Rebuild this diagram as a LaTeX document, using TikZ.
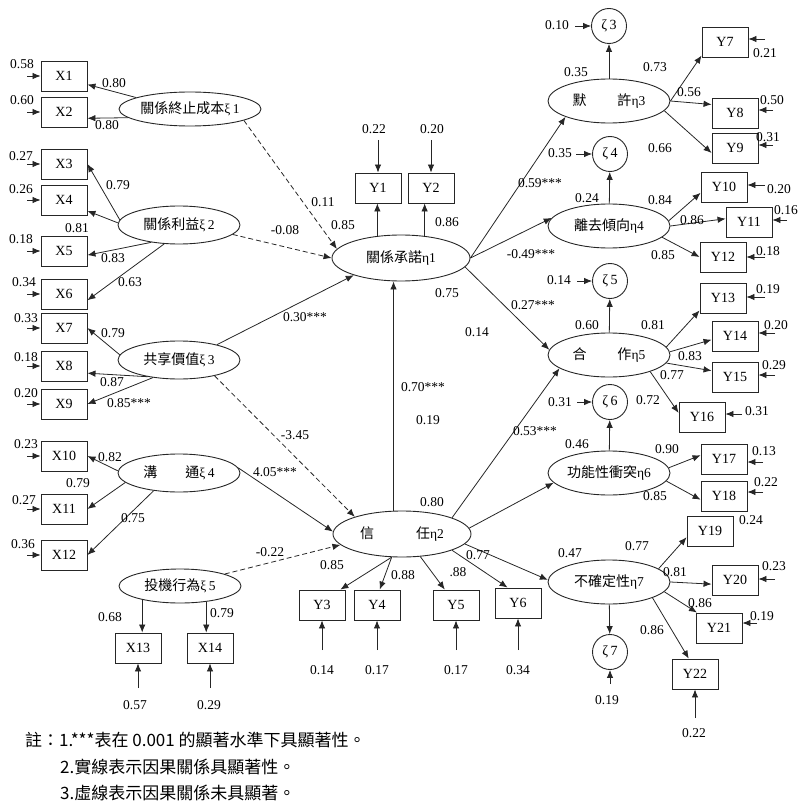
\documentclass[tikz,border=0pt]{standalone}
\usepackage{fontspec}
\setmainfont{Liberation Serif}
\newfontfamily\cjk{Noto Sans CJK TC}
\usetikzlibrary{arrows.meta,shapes.geometric}
\tikzset{
  obs/.style={draw=black!85,line width=0.9pt,minimum width=46pt,minimum height=30pt,inner sep=0pt,font=\fontsize{14}{16}\selectfont},
  lat/.style={ellipse,draw=black!85,line width=0.9pt,minimum width=122pt,minimum height=38pt,inner sep=0pt,font=\fontsize{13.5}{15}\selectfont},
  latc/.style={lat,minimum width=138pt,minimum height=46pt},
  dist/.style={circle,draw=black!85,line width=0.9pt,minimum size=35pt,inner sep=0pt,font=\fontsize{14}{16}\selectfont},
  arr/.style={-{Latex[length=8pt,width=6.5pt]},line width=0.8pt,draw=black!85},
  darr/.style={arr,dash pattern=on 5pt off 3pt},
  lbl/.style={font=\fontsize{13.5}{15}\selectfont,inner sep=0pt},
  note/.style={font=\cjk\fontsize{17}{19}\selectfont,anchor=west,inner sep=0pt},
}
\newcommand{\zh}[1]{{\cjk\fontsize{14}{16}\selectfont #1}}
\begin{document}
\begin{tikzpicture}[x=1pt,y=-1pt]
  \useasboundingbox (0,0) rectangle (799,805);

  % exogenous constructs
  \node[lat,minimum width=142pt,minimum height=34pt] (xi1) at (190,109) {\zh{關係終止成本}ξ\,1};
  \node[lat] (xi2) at (179,225) {\zh{關係利益}ξ\,2};
  \node[lat] (xi3) at (179,360) {\zh{共享價值}ξ\,3};
  \node[lat] (xi4) at (179,473) {\zh{溝\hspace{2em}通}ξ\,4};
  \node[lat,minimum height=34pt] (xi5) at (180,586) {\zh{投機行為}ξ\,5};

  % endogenous constructs
  \node[latc] (eta1) at (401,258) {\zh{關係承諾}η1};
  \node[latc] (eta2) at (402,534) {\zh{信\hspace{3em}任}η2};
  \node[lat,minimum height=44pt] (eta3) at (609,101) {\zh{默\hspace{2.2em}許}η3};
  \node[lat,minimum height=44pt] (eta4) at (609,226) {\zh{離去傾向}η4};
  \node[lat,minimum height=44pt] (eta5) at (609,355) {\zh{合\hspace{2.2em}作}η5};
  \node[lat,minimum height=44pt] (eta6) at (609,473) {\zh{功能性衝突}η6};
  \node[lat,minimum height=44pt] (eta7) at (609,582) {\zh{不確定性}η7};

  % disturbances
  \node[dist] (z3) at (609,26) {ζ\,3};
  \node[dist] (z4) at (610,154) {ζ\,4};
  \node[dist] (z5) at (610,281) {ζ\,5};
  \node[dist] (z6) at (610,402) {ζ\,6};
  \node[dist] (z7) at (610,652) {ζ\,7};

  % X indicators
  \node[obs] (X1) at (64,76) {X1};
  \node[obs] (X2) at (64,112) {X2};
  \node[obs] (X3) at (64,164) {X3};
  \node[obs] (X4) at (64,200) {X4};
  \node[obs] (X5) at (64,251) {X5};
  \node[obs] (X6) at (64,294) {X6};
  \node[obs] (X7) at (64,328) {X7};
  \node[obs] (X8) at (64,366) {X8};
  \node[obs] (X9) at (64,404) {X9};
  \node[obs] (X10) at (64,456) {X10};
  \node[obs] (X11) at (64,509) {X11};
  \node[obs] (X12) at (64,555) {X12};
  \node[obs] (X13) at (138,648) {X13};
  \node[obs] (X14) at (210,648) {X14};

  % Y indicators
  \node[obs] (Y1) at (378,188) {Y1};
  \node[obs] (Y2) at (431,188) {Y2};
  \node[obs] (Y3) at (322,605) {Y3};
  \node[obs] (Y4) at (377,605) {Y4};
  \node[obs] (Y5) at (456,605) {Y5};
  \node[obs] (Y6) at (518,603) {Y6};
  \node[obs] (Y7) at (725,42) {Y7};
  \node[obs] (Y8) at (735,113) {Y8};
  \node[obs] (Y9) at (735,148) {Y9};
  \node[obs] (Y10) at (724,187) {Y10};
  \node[obs] (Y11) at (749,222) {Y11};
  \node[obs] (Y12) at (723,257) {Y12};
  \node[obs] (Y13) at (723,298) {Y13};
  \node[obs] (Y14) at (735,336) {Y14};
  \node[obs] (Y15) at (735,377) {Y15};
  \node[obs] (Y16) at (702,417) {Y16};
  \node[obs] (Y17) at (724,459) {Y17};
  \node[obs] (Y18) at (724,496) {Y18};
  \node[obs] (Y19) at (710,531) {Y19};
  \node[obs] (Y20) at (735,580) {Y20};
  \node[obs] (Y21) at (719,628) {Y21};
  \node[obs] (Y22) at (695,674) {Y22};

  % measurement paths
  \draw[arr] (xi1.168) -- (X1.-20);
  \draw[arr] (xi1.188) -- (X2.-15);
  \draw[arr] (xi2.175) -- (X3.east);
  \draw[arr] (xi2.178) -- (X4.-25);
  \draw[arr] (xi2.212) -- (X5.-10);
  \draw[arr] (xi2.232) -- (X6.-15);
  \draw[arr] (xi3.175) -- (X7.east);
  \draw[arr] (xi3.208) -- (X8.-17);
  \draw[arr] (xi3.214) -- (X9.east);
  \draw[arr] (xi4.178) -- (X10.east);
  \draw[arr] (xi4.190) -- (X11.east);
  \draw[arr] (xi4.215) -- (X12.east);
  \draw[arr] (xi5.200) -- (xi5.200 |- X13.north);
  \draw[arr] (xi5.-31) -- (xi5.-31 |- X14.north);
  \draw[arr] (eta1.137) -- (eta1.137 |- Y1.south);
  \draw[arr] (eta1.43) -- (eta1.43 |- Y2.south);
  \draw[arr] (eta2.246) -- (Y3.40);
  \draw[arr] (eta2.246) -- (Y4.80);
  \draw[arr] (eta2.-51) -- (Y5.126);
  \draw[arr] (eta2.-18) -- (Y6.124);
  \draw[arr] (eta3.east) -- (Y7.210);
  \draw[arr] (eta3.east) -- (Y8.160);
  \draw[arr] (eta3.-10) -- (Y9.192);
  \draw[arr] (eta4.5) -- (Y10.194);
  \draw[arr] (eta4.0) -- (Y11.172);
  \draw[arr] (eta4.-12) -- (Y12.west);
  \draw[arr] (eta5.8) -- (Y13.208);
  \draw[arr] (eta5.3) -- (Y14.189);
  \draw[arr] (eta5.-8) -- (Y15.165);
  \draw[arr] (eta5.-22) -- (Y16.170);
  \draw[arr] (eta6.5) -- (Y17.171);
  \draw[arr] (eta6.-8) -- (Y18.189);
  \draw[arr] (eta7.15) -- (Y19.195);
  \draw[arr] (eta7.east) -- (Y20.190);
  \draw[arr] (eta7.-10) -- (Y21.145);
  \draw[arr] (eta7.-20) -- (Y22.112);

  % structural paths
  \draw[darr] (xi1.-12) -- (eta1.172);
  \draw[darr] (xi2.-10) -- (eta1.180);
  \draw[arr] (xi3.22) -- (eta1.200);
  \draw[darr] (xi3.-24) -- (eta2.160);
  \draw[arr] (xi4.5) -- (eta2.178);
  \draw[darr] (xi5.15) -- (eta2.190);
  \draw[arr] (eta2.110) -- (eta2.110 |- eta1.south);
  \draw[arr] (eta1.east) -- (eta3.200);
  \draw[arr] (eta1.east) -- (eta4.172);
  \draw[arr] (eta1.-8) -- (eta5.175);
  \draw[arr] (eta2.18) -- (eta5.195);
  \draw[arr] (eta2.5) -- (eta6.190);
  \draw[arr] (eta2.-9) -- (eta7.178);
  \draw[arr] (eta3) -- (z3);
  \draw[arr] (eta4) -- (z4);
  \draw[arr] (eta5) -- (z5);
  \draw[arr] (eta6) -- (z6);
  \draw[arr] (eta7) -- (z7);

  % error terms X
  \coordinate (eX1) at (27,76);   \draw[arr] (eX1) -- (X1);   \node[lbl] (lX1) at (22,64) {0.58};
  \coordinate (eX2) at (27,112);  \draw[arr] (eX2) -- (X2);   \node[lbl] (lX2) at (22,100) {0.60};
  \coordinate (eX3) at (27,164);  \draw[arr] (eX3) -- (X3);   \node[lbl] (lX3) at (21,156) {0.27};
  \coordinate (eX4) at (27,200);  \draw[arr] (eX4) -- (X4);   \node[lbl] (lX4) at (21,189) {0.26};
  \coordinate (eX5) at (27,251);  \draw[arr] (eX5) -- (X5);   \node[lbl] (lX5) at (21,239) {0.18};
  \coordinate (eX6) at (27,294);  \draw[arr] (eX6) -- (X6);   \node[lbl] (lX6) at (24,282) {0.34};
  \coordinate (eX7) at (27,328);  \draw[arr] (eX7) -- (X7);   \node[lbl] (lX7) at (26,318) {0.33};
  \coordinate (eX8) at (27,366);  \draw[arr] (eX8) -- (X8);   \node[lbl] (lX8) at (26,357) {0.18};
  \coordinate (eX9) at (27,404);  \draw[arr] (eX9) -- (X9);   \node[lbl] (lX9) at (26,393) {0.20};
  \coordinate (eX10) at (27,456); \draw[arr] (eX10) -- (X10); \node[lbl] (lX10) at (26,444) {0.23};
  \coordinate (eX11) at (27,509); \draw[arr] (eX11) -- (X11); \node[lbl] (lX11) at (24,500) {0.27};
  \coordinate (eX12) at (27,555); \draw[arr] (eX12) -- (X12); \node[lbl] (lX12) at (23,544) {0.36};
  \coordinate (eX13) at (138,688); \draw[arr] (eX13) -- (X13); \node[lbl] (lX13) at (135,705) {0.57};
  \coordinate (eX14) at (210,688); \draw[arr] (eX14) -- (X14); \node[lbl] (lX14) at (209,705) {0.29};

  % error terms Y
  \coordinate (eY1) at (378,140); \draw[arr] (eY1) -- (Y1); \node[lbl] (lY1) at (374,129) {0.22};
  \coordinate (eY2) at (431,140); \draw[arr] (eY2) -- (Y2); \node[lbl] (lY2) at (432,129) {0.20};
  \coordinate (eY3) at (322,650); \draw[arr] (eY3) -- (Y3); \node[lbl] (lY3) at (322,670) {0.14};
  \coordinate (eY4) at (377,650); \draw[arr] (eY4) -- (Y4); \node[lbl] (lY4) at (377,670) {0.17};
  \coordinate (eY5) at (456,650); \draw[arr] (eY5) -- (Y5); \node[lbl] (lY5) at (456,670) {0.17};
  \coordinate (eY6) at (518,650); \draw[arr] (eY6) -- (Y6); \node[lbl] (lY6) at (518,670) {0.34};
  \coordinate (eY7) at (765,39);  \draw[arr] (eY7) -- (eY7 -| Y7.east);   \node[lbl] (lY7) at (765,53) {0.21};
  \coordinate (eY8) at (773,110); \draw[arr] (eY8) -- (eY8 -| Y8.east);   \node[lbl] (lY8) at (772,100) {0.50};
  \coordinate (eY9) at (773,145); \draw[arr] (eY9) -- (eY9 -| Y9.east);   \node[lbl] (lY9) at (768,137) {0.31};
  \coordinate (eY10) at (765,185); \draw[arr] (eY10) -- (eY10 -| Y10.east); \node[lbl] (lY10) at (779,189) {0.20};
  \coordinate (eY11) at (787,220); \draw[arr] (eY11) -- (eY11 -| Y11.east); \node[lbl] (lY11) at (786,210) {0.16};
  \coordinate (eY12) at (765,257); \draw[arr] (eY12) -- (eY12 -| Y12.east); \node[lbl] (lY12) at (768,251) {0.18};
  \coordinate (eY13) at (765,297); \draw[arr] (eY13) -- (eY13 -| Y13.east); \node[lbl] (lY13) at (768,289) {0.19};
  \coordinate (eY14) at (775,333); \draw[arr] (eY14) -- (eY14 -| Y14.east); \node[lbl] (lY14) at (776,325) {0.20};
  \coordinate (eY15) at (775,375); \draw[arr] (eY15) -- (eY15 -| Y15.east); \node[lbl] (lY15) at (774,365) {0.29};
  \coordinate (eY16) at (742,414); \draw[arr] (eY16) -- (eY16 -| Y16.east); \node[lbl] (lY16) at (757,411) {0.31};
  \coordinate (eY17) at (763,462); \draw[arr] (eY17) -- (eY17 -| Y17.east); \node[lbl] (lY17) at (764,451) {0.13};
  \coordinate (eY18) at (763,492); \draw[arr] (eY18) -- (eY18 -| Y18.east); \node[lbl] (lY18) at (766,482) {0.22};
  \node[lbl] (lY19) at (751,520) {0.24};
  \coordinate (eY20) at (775,579); \draw[arr] (eY20) -- (eY20 -| Y20.east); \node[lbl] (lY20) at (774,566) {0.23};
  \coordinate (eY21) at (757,623); \draw[arr] (eY21) -- (eY21 -| Y21.east); \node[lbl] (lY21) at (762,616) {0.19};
  \coordinate (eY22) at (695,718); \draw[arr] (eY22) -- (Y22); \node[lbl] (lY22) at (694,733) {0.22};

  % disturbance terms
  \coordinate (ez3) at (575,26);  \draw[arr] (ez3) -- (z3);  \node[lbl] (lz3) at (557,25) {0.10};
  \coordinate (ez4) at (576,154); \draw[arr] (ez4) -- (z4);  \node[lbl] (lz4) at (560,153) {0.35};
  \coordinate (ez5) at (577,281); \draw[arr] (ez5) -- (z5);  \node[lbl] (lz5) at (559,280) {0.14};
  \coordinate (ez6) at (577,402); \draw[arr] (ez6) -- (z6);  \node[lbl] (lz6) at (560,402) {0.31};
  \coordinate (ez7) at (610,684); \draw[arr] (ez7) -- (z7);  \node[lbl] (lz7) at (607,700) {0.19};

  % loadings
  \node[lbl] (fX1) at (114,83) {0.80};
  \node[lbl] (fX2) at (107,125) {0.80};
  \node[lbl] (fX3) at (118,185) {0.79};
  \node[lbl] (fX4) at (77,228) {0.81};
  \node[lbl] (fX5) at (113,258) {0.83};
  \node[lbl] (fX6) at (130,282) {0.63};
  \node[lbl] (fX7) at (113,333) {0.79};
  \node[lbl] (fX8) at (112,382) {0.87};
  \node[lbl] (fX9) at (129,403) {0.85***};
  \node[lbl] (fX10) at (110,457) {0.82};
  \node[lbl] (fX11) at (78,483) {0.79};
  \node[lbl] (fX12) at (133,518) {0.75};
  \node[lbl] (fX13) at (110,617) {0.68};
  \node[lbl] (fX14) at (222,613) {0.79};
  \node[lbl] (fY1) at (343,225) {0.85};
  \node[lbl] (fY2) at (447,222) {0.86};
  \node[lbl] (fY3) at (332,565) {0.85};
  \node[lbl] (fY4) at (403,575) {0.88};
  \node[lbl] (fY5) at (458,572) {.88};
  \node[lbl] (fY6) at (478,555) {0.77};
  \node[lbl] (fY7) at (655,67) {0.73};
  \node[lbl] (fY8) at (689,92) {0.56};
  \node[lbl] (fY9) at (660,148) {0.66};
  \node[lbl] (fY10) at (660,200) {0.84};
  \node[lbl] (fY11) at (692,220) {0.86};
  \node[lbl] (fY12) at (663,255) {0.85};
  \node[lbl] (fY13) at (653,325) {0.81};
  \node[lbl] (fY14) at (690,356) {0.83};
  \node[lbl] (fY15) at (672,375) {0.77};
  \node[lbl] (fY16) at (648,400) {0.72};
  \node[lbl] (fY17) at (667,449) {0.90};
  \node[lbl] (fY18) at (655,496) {0.85};
  \node[lbl] (fY19) at (637,546) {0.77};
  \node[lbl] (fY20) at (675,572) {0.81};
  \node[lbl] (fY21) at (700,603) {0.86};
  \node[lbl] (fY22) at (652,630) {0.86};

  % path coefficients
  \node[lbl] (g11) at (323,202) {0.11};
  \node[lbl] (g12) at (285,230) {-0.08};
  \node[lbl] (g13) at (305,317) {0.30***};
  \node[lbl] (g23) at (295,435) {-3.45};
  \node[lbl] (g24) at (275,472) {4.05***};
  \node[lbl] (g25) at (270,552) {-0.22};
  \node[lbl] (b12) at (423,387) {0.70***};
  \node[lbl] (b31) at (540,183) {0.59***};
  \node[lbl] (b41) at (531,254) {-0.49***};
  \node[lbl] (b51) at (533,305) {0.27***};
  \node[lbl] (b52) at (535,431) {0.53***};
  \node[lbl] (r1) at (447,293) {0.75};
  \node[lbl] (t1) at (477,332) {0.14};
  \node[lbl] (r2a) at (428,420) {0.19};
  \node[lbl] (r2) at (432,502) {0.80};
  \node[lbl] (r3) at (576,72) {0.35};
  \node[lbl] (r4) at (587,198) {0.24};
  \node[lbl] (r5) at (587,325) {0.60};
  \node[lbl] (r6) at (577,444) {0.46};
  \node[lbl] (r7) at (570,553) {0.47};

  % notes
  \node[note] (n1) at (25,740) {註：1.***表在 0.001 的顯著水準下具顯著性。};
  \node[note] (n2) at (60,767) {2.實線表示因果關係具顯著性。};
  \node[note] (n3) at (60,793) {3.虛線表示因果關係未具顯著。};
\end{tikzpicture}
\end{document}
